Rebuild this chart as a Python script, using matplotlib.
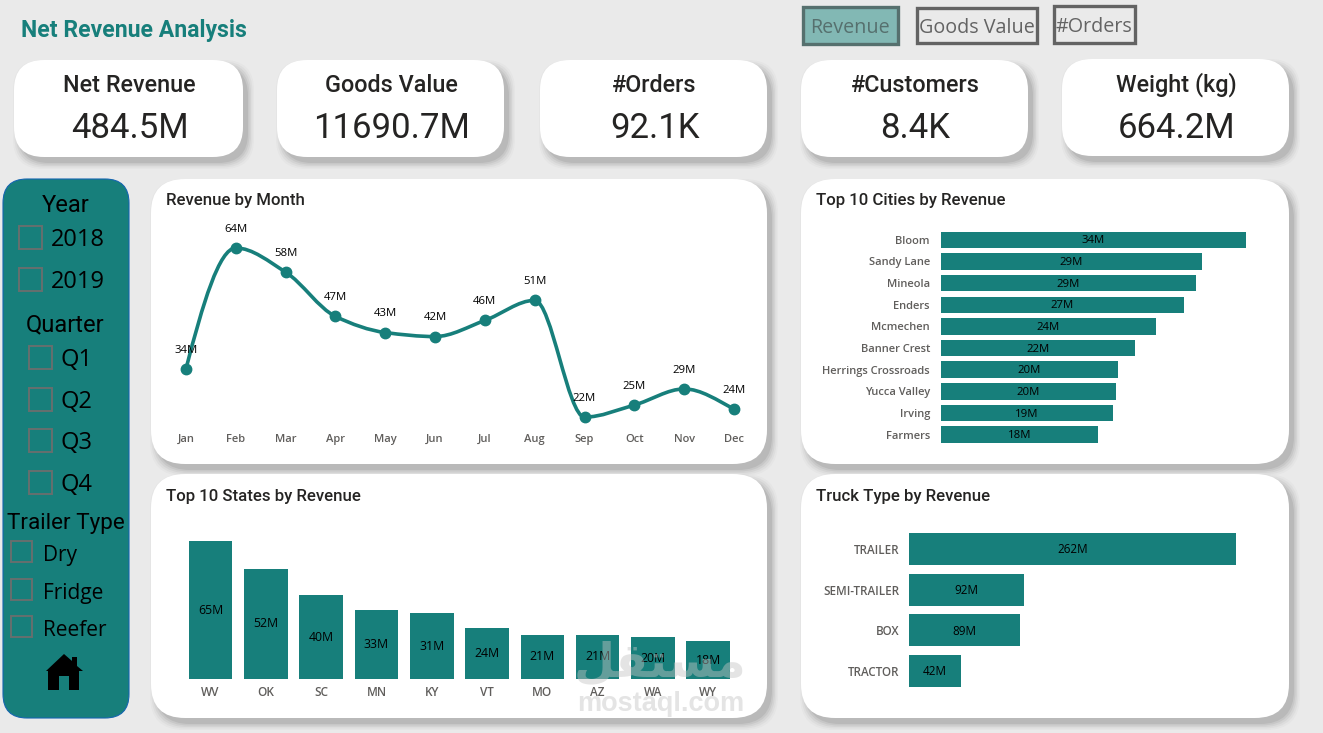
import numpy as np
import matplotlib
matplotlib.use('Agg')
import matplotlib.pyplot as plt
from matplotlib.patches import FancyBboxPatch, Rectangle, Polygon, PathPatch
from matplotlib.path import Path

W, H = 1323, 733
TEAL = '#177f7b'
BG = '#eaeaea'
DIN = 'Roboto'
SEGOE = 'Open Sans'

kpi_titles = ['Net Revenue', 'Goods Value', '#Orders', '#Customers', 'Weight (kg)']
kpi_values = ['484.5M', '11690.7M', '92.1K', '8.4K', '664.2M']

months = ['Jan', 'Feb', 'Mar', 'Apr', 'May', 'Jun', 'Jul', 'Aug', 'Sep', 'Oct', 'Nov', 'Dec']
month_rev = [34, 64, 58, 47, 43, 42, 46, 51, 22, 25, 29, 24]

cities = ['Bloom', 'Sandy Lane', 'Mineola', 'Enders', 'Mcmechen', 'Banner Crest',
          'Herrings Crossroads', 'Yucca Valley', 'Irving', 'Farmers']
city_rev = [34.4, 29.4, 28.7, 27.4, 24.2, 21.9, 19.9, 19.7, 19.4, 17.7]

states = ['WV', 'OK', 'SC', 'MN', 'KY', 'VT', 'MO', 'AZ', 'WA', 'WY']
state_rev = [65, 52, 39.6, 32.6, 31, 24, 20.8, 20.8, 19.8, 17.9]

trucks = ['TRAILER', 'SEMI-TRAILER', 'BOX', 'TRACTOR']
truck_rev = [262, 92, 89, 42]


def px_axes(fig, left, top, right, bottom):
    ax = fig.add_axes([left / W, 1 - bottom / H, (right - left) / W, (bottom - top) / H])
    ax.patch.set_alpha(0)
    for s in ax.spines.values():
        s.set_visible(False)
    return ax


def card(ax, x0, y0, x1, y1, radius, color='white', edge='none', shadow=True):
    # soft shadow built from stacked translucent boxes
    if shadow:
        for grow, alpha in [(6, 0.03), (4.5, 0.05), (3, 0.07), (1.5, 0.09), (0, 0.12)]:
            ax.add_patch(FancyBboxPatch(
                (x0 + radius + 5 - grow, y0 + radius + 6 - grow),
                x1 - x0 - 2 * radius + 2 * grow, y1 - y0 - 2 * radius + 2 * grow,
                boxstyle=f'round,pad={radius},rounding_size={radius}',
                fc='#555555', ec='none', alpha=alpha, zorder=1))
    ax.add_patch(FancyBboxPatch(
        (x0 + radius, y0 + radius), x1 - x0 - 2 * radius, y1 - y0 - 2 * radius,
        boxstyle=f'round,pad={radius},rounding_size={radius}',
        fc=color, ec=edge, lw=0.8, zorder=2))


def smooth_line(x, y):
    # bezier segments through the points, flat tangent at local extremes
    x = np.asarray(x, float)
    y = np.asarray(y, float)
    slope = np.zeros(len(y))
    for i in range(1, len(y) - 1):
        d0, d1 = y[i] - y[i - 1], y[i + 1] - y[i]
        if d0 * d1 > 0:
            slope[i] = 2 * d0 * d1 / (d0 + d1)
    slope[0] = (y[1] - y[0]) * 1.6
    slope[-1] = (y[-1] - y[-2]) * 1.3
    verts = [(x[0], y[0])]
    codes = [Path.MOVETO]
    for i in range(len(y) - 1):
        h = (x[i + 1] - x[i]) / 3
        verts += [(x[i] + h, y[i] + slope[i] * h),
                  (x[i + 1] - h, y[i + 1] - slope[i + 1] * h),
                  (x[i + 1], y[i + 1])]
        codes += [Path.CURVE4] * 3
    return Path(verts, codes)


fig = plt.figure(figsize=(W / 100, H / 100), dpi=100, facecolor=BG)
bg = fig.add_axes([0, 0, 1, 1])
bg.set_xlim(0, W)
bg.set_ylim(H, 0)
bg.axis('off')

bg.text(21, 31, 'Net Revenue Analysis', color=TEAL, fontsize=16.6, fontweight='bold',
        family=DIN, va='center', ha='left')

# toggle buttons
buttons = [('Revenue', 801, 5, 899, 45, '#82b8b4', '#56706e', '#56706e'),
           ('Goods Value', 915, 6, 1038, 44, BG, '#636363', '#636363'),
           ('#Orders', 1052, 4, 1136, 44, BG, '#636363', '#636363')]
for label, x0, y0, x1, y1, fc, ec, tc in buttons:
    bg.add_patch(Rectangle((x0 + 1.5, y0 + 1.5), x1 - x0 - 3, y1 - y0 - 3, fc=fc, ec=ec, lw=2.4))
    bg.text((x0 + x1) / 2, (y0 + y1) / 2 + 3, label, color=tc, fontsize=14.2, family=SEGOE,
            ha='center', va='center')

# KPI cards
kpi_boxes = [(14, 60, 243, 157), (277, 60, 504, 157), (540, 60, 767, 157),
             (801, 60, 1028, 157), (1062, 59, 1289, 156)]
for (x0, y0, x1, y1), title, value in zip(kpi_boxes, kpi_titles, kpi_values):
    card(bg, x0, y0, x1, y1, 30)
    cx = (x0 + x1) / 2 + 1
    bg.text(cx, y0 + 26, title, ha='center', va='center', fontsize=16.8, fontweight='medium',
            family=DIN, color='#252423', zorder=3)
    bg.text(cx, y0 + 69, value, ha='center', va='center', fontsize=25, family=DIN,
            color='#252423', zorder=3)

# panels
panels = [(151, 179, 767, 464, 'Revenue by Month', 21), (801, 179, 1289, 464, 'Top 10 Cities by Revenue', 21),
          (151, 474, 767, 718, 'Top 10 States by Revenue', 22), (801, 474, 1289, 718, 'Truck Type by Revenue', 22)]
for x0, y0, x1, y1, title, title_dy in panels:
    card(bg, x0, y0, x1, y1, 34)
    bg.text(x0 + 15, y0 + title_dy, title, ha='left', va='center', fontsize=12.1, fontweight='medium',
            family=DIN, color='#252423', zorder=3)

# slicer panel
card(bg, 3, 179, 129, 718, 24, color=TEAL, edge='#1565b0', shadow=False)
slicer_heads = [('Year', 66, 205, 17), ('Quarter', 65, 325, 17), ('Trailer Type', 66, 523, 16.2)]
for text, x, y, fs in slicer_heads:
    bg.text(x, y, text, ha='center', va='center', fontsize=fs, family=DIN, color='black', zorder=3)
slicer_items = [('2018', 19, 226, 23, 51, 240, 17), ('2019', 19, 268, 23, 51, 282, 17),
                ('Q1', 29, 346, 23, 61, 360, 17), ('Q2', 29, 388, 23, 61, 402, 17),
                ('Q3', 29, 429, 23, 61, 443, 17), ('Q4', 29, 471, 23, 61, 485, 17),
                ('Dry', 11, 541, 21, 43, 556, 15), ('Fridge', 11, 579, 21, 43, 593, 15),
                ('Reefer', 11, 616, 21, 43, 630, 15)]
for text, bx, by, size, tx, ty, fs in slicer_items:
    bg.add_patch(Rectangle((bx, by), size, size, fc='none', ec='#666f6e', lw=1.4, zorder=3))
    bg.text(tx, ty, text, ha='left', va='center', fontsize=fs, family=SEGOE, color='black', zorder=3)

# home icon
bg.add_patch(Polygon([(46, 671), (64, 654), (72, 661), (72, 657), (77, 657), (77, 666), (83, 671),
                      (79, 671), (79, 690), (69, 690), (69, 676), (59, 676), (59, 690),
                      (48, 690), (48, 671)], fc='black', ec='none', zorder=3))

# revenue by month
ax = px_axes(fig, 161.1, 225, 758.9, 430)
x = np.arange(len(months))
ax.add_patch(PathPatch(smooth_line(x, month_rev), fc='none', ec=TEAL, lw=2.6))
ax.plot(x, month_rev, 'o', color=TEAL, ms=7.5, clip_on=False)
ax.set_xlim(-0.5, 11.5)
ax.set_ylim(18.8, 69.7)
ax.set_yticks([])
ax.set_xticks(x, months, fontsize=8, fontweight='semibold', family=SEGOE, color='#605e5c')
ax.tick_params(axis='x', length=0, pad=3)
for i, v in enumerate(month_rev):
    ax.annotate(f'{v}M', (i, v), xytext=(0, 13.5), textcoords='offset points', ha='center',
                va='center', fontsize=8.2, family=SEGOE, color='black')

# top cities
ax = px_axes(fig, 941, 229, 1280, 445.5)
y = np.arange(len(cities))
ax.barh(y, city_rev, height=0.76, color=TEAL)
ax.set_xlim(0, 339 / 8.87)
ax.set_ylim(9.5, -0.5)
ax.set_xticks([])
ax.set_yticks(y, cities, fontsize=8, fontweight='semibold', family=SEGOE, color='#605e5c')
ax.tick_params(axis='y', length=0, pad=8)
for i, v in enumerate(city_rev):
    ax.text(v / 2, i + 0.05, f'{v:.0f}M', ha='center', va='center', fontsize=8.2, family=SEGOE, color='black')

# top states
ax = px_axes(fig, 182.9, 530, 735.9, 679)
x = np.arange(len(states))
ax.bar(x, state_rev, width=0.787, color=TEAL)
ax.set_xlim(-0.5, 9.5)
ax.set_ylim(0, 149 / 2.12)
ax.set_yticks([])
ax.set_xticks(x, states, fontsize=8.5, fontweight='semibold', family=SEGOE, color='#605e5c')
ax.tick_params(axis='x', length=0, pad=5)
for i, v in enumerate(state_rev):
    ax.text(i, v / 2, f'{v:.0f}M', ha='center', va='center', fontsize=8.8, family=SEGOE, color='black')

# truck type
ax = px_axes(fig, 909, 528.5, 1280, 691.5)
y = np.arange(len(trucks))
ax.barh(y, truck_rev, height=0.785, color=TEAL)
ax.set_xlim(0, 371 / 1.248)
ax.set_ylim(3.5, -0.5)
ax.set_xticks([])
ax.set_yticks(y, trucks, fontsize=8.4, fontweight='semibold', family=SEGOE, color='#605e5c')
ax.tick_params(axis='y', length=0, pad=7)
for i, v in enumerate(truck_rev):
    ax.text(v / 2, i + 0.02, f'{v}M', ha='center', va='center', fontsize=8.4, family=SEGOE, color='black')

# site watermark, sits on top of everything
over = fig.add_axes([0, 0, 1, 1])
over.set_xlim(0, W)
over.set_ylim(H, 0)
over.axis('off')
over.text(661, 704, 'mostaql.com', ha='center', va='center', fontsize=19.5, fontweight='bold',
          family='Liberation Sans', color='#c4c4c4', alpha=0.45)
over.text(660, 664, '\ufede\ufed8\ufe98\ufeb4\ufee3', ha='center', va='center', fontsize=34,
          fontweight='bold', family='DejaVu Sans', color='#c4c4c4', alpha=0.45)

fig.savefig('out.png', dpi=100, facecolor=BG)
